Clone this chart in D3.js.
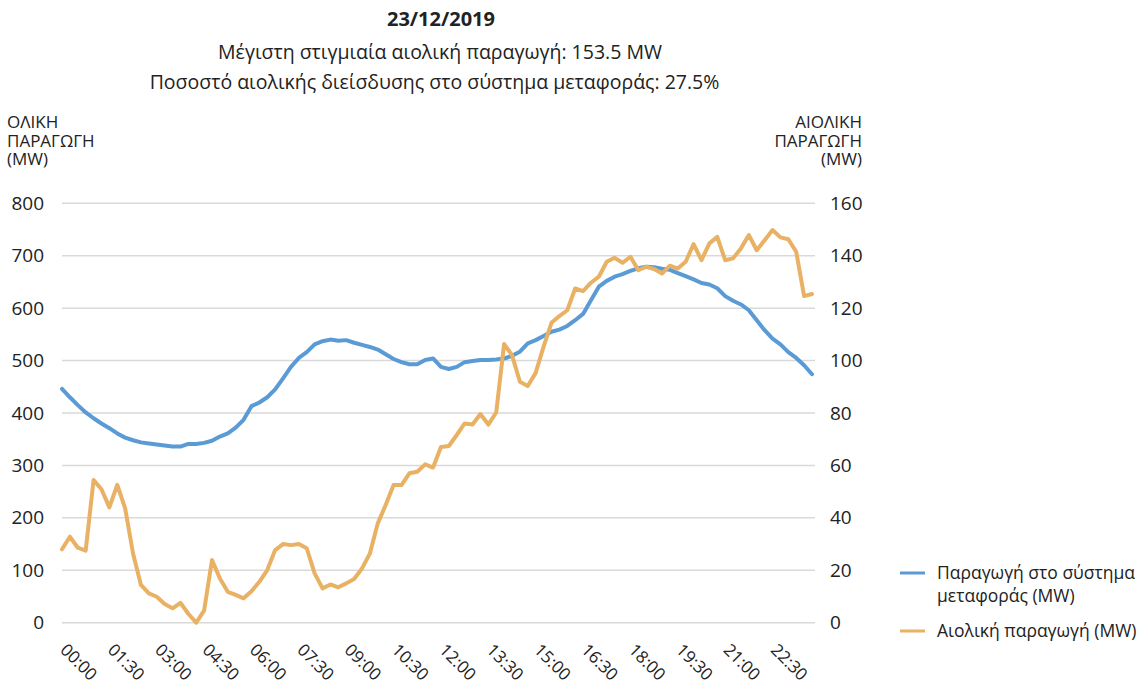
<!DOCTYPE html>
<html>
<head>
<meta charset="utf-8">
<script src="https://cdn.jsdelivr.net/npm/d3@7"></script>
<style>
  body { margin: 0; background: #fff; }
  svg { display: block; }
</style>
</head>
<body>
<div id="chart"></div>
<script>
// 15-minute slots, 00:00 .. 23:45
var times = d3.range(96).map(function (i) {
  var h = Math.floor(i / 4), m = (i % 4) * 15;
  return (h < 10 ? "0" : "") + h + ":" + (m < 10 ? "0" : "") + m;
});

// total production on the transmission system (MW), left axis
var totalMW = [
  446, 430, 415, 401, 390, 380, 371, 361, 353, 348, 344, 342,
  340, 338, 336, 336, 341, 341, 343, 347, 355, 361, 372, 387,
  413, 420, 430, 445, 466, 488, 505, 516, 531, 537, 540, 538,
  539, 534, 530, 526, 521, 512, 503, 497, 493, 493, 501, 504,
  488, 484, 488, 497, 499, 501, 501, 502, 504, 509, 517, 533,
  539, 547, 555, 559, 566, 577, 589, 615, 641, 652, 660, 665,
  671, 676, 679, 678, 675, 673, 667, 661, 655, 648, 645, 638,
  623, 614, 607, 596, 577, 558, 542, 531, 516, 505, 491, 474
];

// wind production (MW), right axis
var windMW = [
  28.0, 32.8, 28.6, 27.5, 54.4, 50.9, 44.0, 52.6, 43.6, 26.4, 14.4, 11.2,
  9.9, 7.1, 5.5, 7.6, 3.4, 0.0, 4.6, 23.9, 16.9, 11.8, 10.6, 9.3,
  12.0, 15.6, 20.1, 27.7, 30.0, 29.6, 30.0, 28.4, 18.8, 13.1, 14.6, 13.5,
  15.0, 16.7, 20.7, 26.4, 37.9, 44.9, 52.5, 52.5, 57.0, 57.6, 60.4, 59.2,
  67.0, 67.4, 71.6, 76.0, 75.6, 79.6, 75.6, 80.2, 106.3, 102.1, 91.9, 90.3,
  95.3, 105.3, 114.4, 117.0, 119.2, 127.5, 126.5, 129.7, 132.0, 137.7, 139.2, 137.3,
  139.6, 134.5, 135.8, 134.9, 133.2, 136.2, 135.1, 137.7, 144.4, 138.3, 144.7, 147.2,
  138.3, 139.0, 142.8, 147.9, 142.1, 145.9, 149.8, 147.0, 146.3, 141.5, 124.6, 125.4
];

var tickLabels = ["00:00", "01:30", "03:00", "04:30", "06:00", "07:30", "09:00", "10:30",
                  "12:00", "13:30", "15:00", "16:30", "18:00", "19:30", "21:00", "22:30"];
var leftTicks = [0, 100, 200, 300, 400, 500, 600, 700, 800];
var rightTicks = [0, 20, 40, 60, 80, 100, 120, 140, 160];

var titleText = "23/12/2019";
var subtitleLines = ["Μέγιστη στιγμιαία αιολική παραγωγή: 153.5 MW",
                     "Ποσοστό αιολικής διείσδυσης στο σύστημα μεταφοράς: 27.5%"];
var leftTitle = ["ΟΛΙΚΗ", "ΠΑΡΑΓΩΓΗ", "(MW)"];
var rightTitle = ["ΑΙΟΛΙΚΗ", "ΠΑΡΑΓΩΓΗ", "(MW)"];

var blue = "#5b9bd5", orange = "#e8b163";
var font = "'Open Sans', sans-serif";

var draw = function () {
  var width = 1138, height = 685;
  var svg = d3.select("#chart").append("svg")
    .attr("width", width)
    .attr("height", height)
    .style("font-family", font);

  var x = d3.scalePoint().domain(times).range([62, 812]);
  var yL = d3.scaleLinear().domain([0, 800]).range([622.7, 203.3]);
  var yR = d3.scaleLinear().domain([0, 160]).range([622.7, 203.3]);

  // titles
  svg.append("text")
    .attr("x", 441).attr("y", 26)
    .attr("text-anchor", "middle")
    .style("font-size", "20px").style("font-weight", "bold")
    .attr("fill", "#222")
    .text(titleText);
  svg.selectAll(".sub").data(subtitleLines).enter().append("text")
    .attr("class", "sub")
    .attr("x", function (d, i) { return i ? 434.5 : 440; })
    .attr("y", function (d, i) { return 59 + i * 30; })
    .attr("text-anchor", "middle")
    .style("font-size", "19.5px")
    .attr("fill", "#222")
    .text(function (d) { return d; });

  svg.selectAll(".ltitle").data(leftTitle).enter().append("text")
    .attr("x", 7).attr("y", function (d, i) { return 128 + i * 18.5; })
    .style("font-size", "17px").attr("fill", "#222")
    .text(function (d) { return d; });
  svg.selectAll(".rtitle").data(rightTitle).enter().append("text")
    .attr("x", 862).attr("y", function (d, i) { return 128 + i * 18.5; })
    .attr("text-anchor", "end")
    .style("font-size", "17px").attr("fill", "#222")
    .text(function (d) { return d; });

  // gridlines
  svg.append("g").selectAll("line").data(leftTicks).enter().append("line")
    .attr("x1", 62).attr("x2", 815)
    .attr("y1", function (d) { return yL(d); })
    .attr("y2", function (d) { return yL(d); })
    .attr("stroke", "#d9d9d9").attr("stroke-width", 1.5);

  // axes
  var gl = svg.append("g").attr("transform", "translate(62,0)")
    .call(d3.axisLeft(yL).tickValues(leftTicks).tickSize(0).tickPadding(18));
  var gr = svg.append("g").attr("transform", "translate(815,0)")
    .call(d3.axisRight(yR).tickValues(rightTicks).tickSize(0).tickPadding(15));
  [gl, gr].forEach(function (g) {
    g.select(".domain").remove();
    g.selectAll("text").style("font-size", "19px").style("font-family", font).attr("fill", "#222");
  });

  var gx = svg.append("g").attr("transform", "translate(0,622.7)")
    .call(d3.axisBottom(x).tickValues(tickLabels).tickSize(0));
  gx.select(".domain").remove();
  gx.selectAll("text")
    .attr("x", 0).attr("y", 0).attr("dy", "0.35em")
    .attr("text-anchor", "start")
    .attr("transform", "translate(1,24) rotate(45)")
    .style("font-size", "17px").style("font-family", font).attr("fill", "#222");

  // lines
  var lineL = d3.line().x(function (d, i) { return x(times[i]); }).y(function (d) { return yL(d); });
  var lineR = d3.line().x(function (d, i) { return x(times[i]); }).y(function (d) { return yR(d); });

  svg.append("path").datum(totalMW)
    .attr("d", lineL).attr("fill", "none")
    .attr("stroke", blue).attr("stroke-width", 4)
    .attr("stroke-linejoin", "round").attr("stroke-linecap", "round");
  svg.append("path").datum(windMW)
    .attr("d", lineR).attr("fill", "none")
    .attr("stroke", orange).attr("stroke-width", 4)
    .attr("stroke-linejoin", "round").attr("stroke-linecap", "round");

  // legend
  var legend = [
    { color: blue, lines: ["Παραγωγή στο σύστημα", "μεταφοράς (MW)"], y: 573 },
    { color: orange, lines: ["Αιολική παραγωγή (MW)"], y: 631 }
  ];
  var lg = svg.append("g").selectAll("g").data(legend).enter().append("g");
  lg.append("line")
    .attr("x1", 900).attr("x2", 925)
    .attr("y1", function (d) { return d.y; }).attr("y2", function (d) { return d.y; })
    .attr("stroke", function (d) { return d.color; }).attr("stroke-width", 3);
  lg.each(function (d) {
    var g = d3.select(this);
    d.lines.forEach(function (t, i) {
      g.append("text")
        .attr("x", 937).attr("y", d.y + 6 + i * 23)
        .style("font-size", "17.5px").attr("fill", "#222")
        .text(t);
    });
  });
};
draw();
</script>
</body>
</html>
